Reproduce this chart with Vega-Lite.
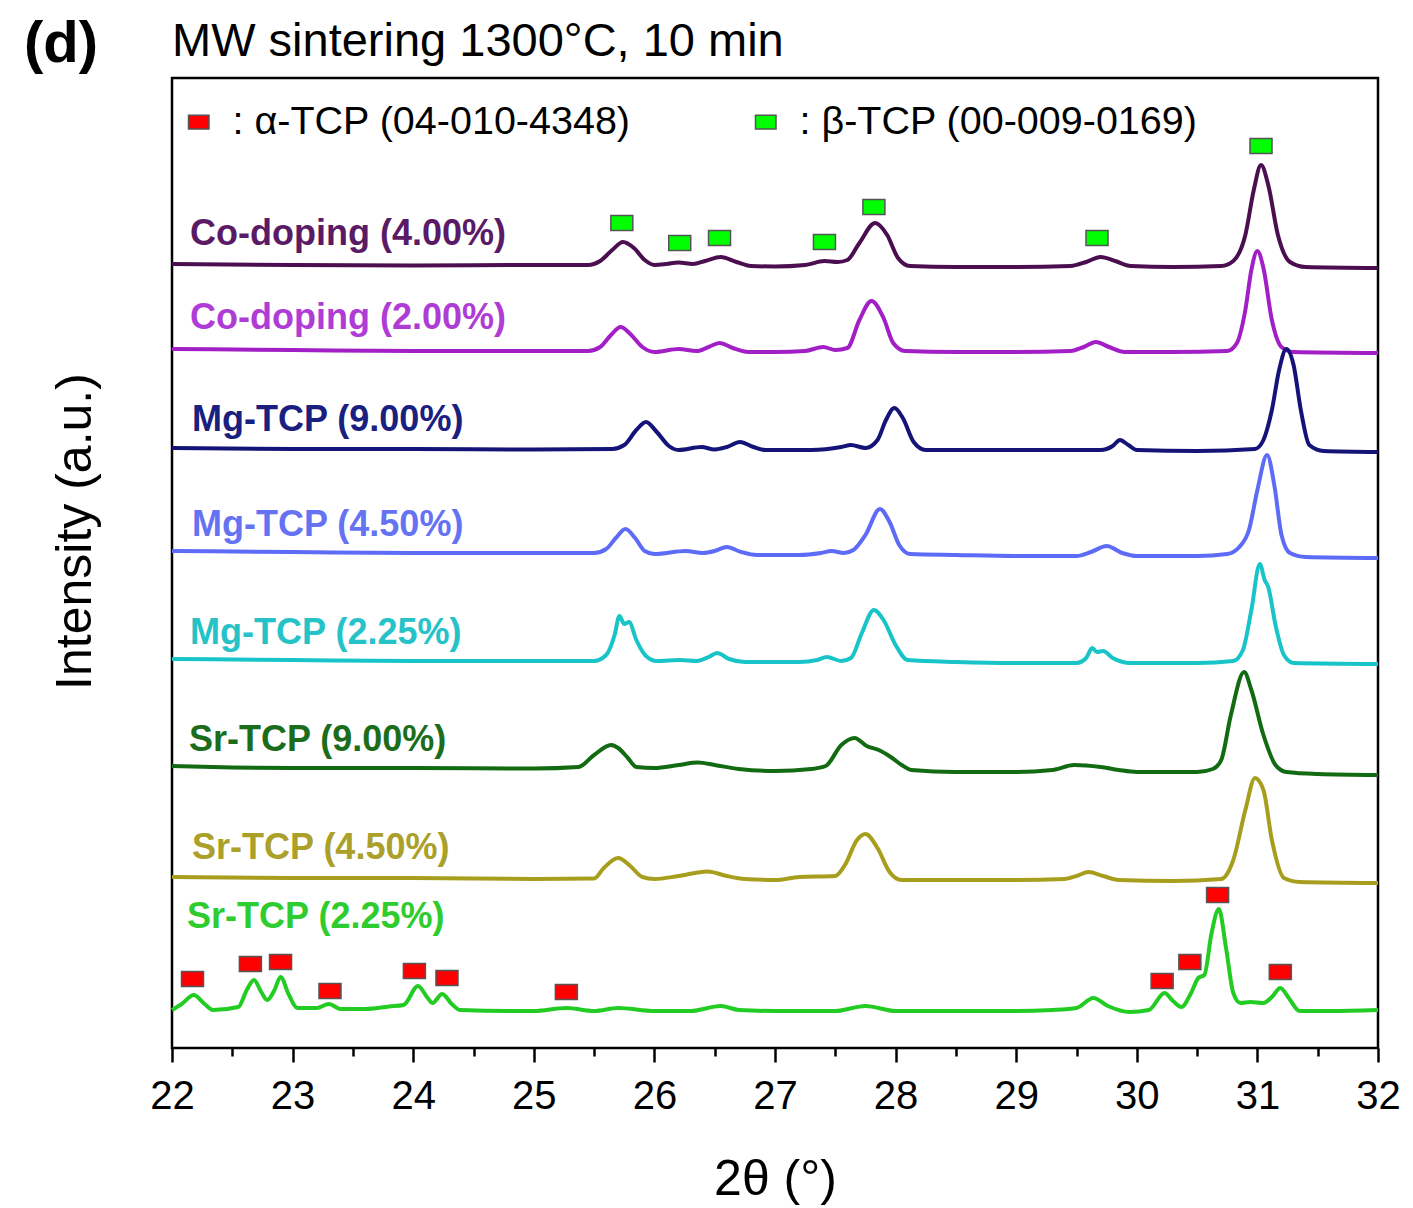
{
"$schema": "https://vega.github.io/schema/vega-lite/v6.json",
"width": 1206, "height": 970,
"autosize": {"type": "none"},
"padding": {"left": 172, "top": 78, "right": 35, "bottom": 160},
"background": "white",
"title": {"text": "MW sintering 1300°C, 10 min", "anchor": "start", "frame": "group", "fontSize": 47, "fontWeight": "normal", "font": "Liberation Sans", "color": "black", "offset": 6, "dy": 56},
"config": {"view": {"stroke": "black", "strokeWidth": 2.5}, "font": "Liberation Sans"},
"datasets": {
"curves": [
{"s":"Co-doping (4.00%)","x":22.0,"y":784},{"s":"Co-doping (4.00%)","x":23.0,"y":783},{"s":"Co-doping (4.00%)","x":24.0,"y":782.5},{"s":"Co-doping (4.00%)","x":25.0,"y":783},{"s":"Co-doping (4.00%)","x":25.45,"y":783},{"s":"Co-doping (4.00%)","x":25.55,"y":787},{"s":"Co-doping (4.00%)","x":25.65,"y":798},{"s":"Co-doping (4.00%)","x":25.74,"y":806},{"s":"Co-doping (4.00%)","x":25.83,"y":800},{"s":"Co-doping (4.00%)","x":25.92,"y":788},{"s":"Co-doping (4.00%)","x":26.0,"y":783},{"s":"Co-doping (4.00%)","x":26.1,"y":784},{"s":"Co-doping (4.00%)","x":26.2,"y":785.5},{"s":"Co-doping (4.00%)","x":26.32,"y":784},{"s":"Co-doping (4.00%)","x":26.42,"y":787},{"s":"Co-doping (4.00%)","x":26.55,"y":791},{"s":"Co-doping (4.00%)","x":26.68,"y":786},{"s":"Co-doping (4.00%)","x":26.8,"y":782},{"s":"Co-doping (4.00%)","x":27.0,"y":781.5},{"s":"Co-doping (4.00%)","x":27.25,"y":783},{"s":"Co-doping (4.00%)","x":27.41,"y":787},{"s":"Co-doping (4.00%)","x":27.52,"y":786},{"s":"Co-doping (4.00%)","x":27.6,"y":788},{"s":"Co-doping (4.00%)","x":27.7,"y":805},{"s":"Co-doping (4.00%)","x":27.83,"y":825},{"s":"Co-doping (4.00%)","x":27.93,"y":813},{"s":"Co-doping (4.00%)","x":28.02,"y":790},{"s":"Co-doping (4.00%)","x":28.12,"y":782},{"s":"Co-doping (4.00%)","x":28.5,"y":781},{"s":"Co-doping (4.00%)","x":29.0,"y":781},{"s":"Co-doping (4.00%)","x":29.45,"y":782},{"s":"Co-doping (4.00%)","x":29.58,"y":786},{"s":"Co-doping (4.00%)","x":29.7,"y":791},{"s":"Co-doping (4.00%)","x":29.82,"y":787},{"s":"Co-doping (4.00%)","x":29.95,"y":782},{"s":"Co-doping (4.00%)","x":30.3,"y":781},{"s":"Co-doping (4.00%)","x":30.7,"y":782},{"s":"Co-doping (4.00%)","x":30.8,"y":787},{"s":"Co-doping (4.00%)","x":30.9,"y":813},{"s":"Co-doping (4.00%)","x":30.97,"y":858},{"s":"Co-doping (4.00%)","x":31.03,"y":883},{"s":"Co-doping (4.00%)","x":31.09,"y":863},{"s":"Co-doping (4.00%)","x":31.17,"y":813},{"s":"Co-doping (4.00%)","x":31.27,"y":786},{"s":"Co-doping (4.00%)","x":31.4,"y":781},{"s":"Co-doping (4.00%)","x":32.0,"y":780},
{"s":"Co-doping (2.00%)","x":22.0,"y":699},{"s":"Co-doping (2.00%)","x":23.0,"y":698},{"s":"Co-doping (2.00%)","x":24.0,"y":697},{"s":"Co-doping (2.00%)","x":25.0,"y":697},{"s":"Co-doping (2.00%)","x":25.45,"y":697},{"s":"Co-doping (2.00%)","x":25.55,"y":701},{"s":"Co-doping (2.00%)","x":25.64,"y":713},{"s":"Co-doping (2.00%)","x":25.72,"y":721},{"s":"Co-doping (2.00%)","x":25.8,"y":714},{"s":"Co-doping (2.00%)","x":25.9,"y":701},{"s":"Co-doping (2.00%)","x":26.0,"y":696},{"s":"Co-doping (2.00%)","x":26.2,"y":699},{"s":"Co-doping (2.00%)","x":26.35,"y":697},{"s":"Co-doping (2.00%)","x":26.45,"y":701},{"s":"Co-doping (2.00%)","x":26.54,"y":705},{"s":"Co-doping (2.00%)","x":26.65,"y":700},{"s":"Co-doping (2.00%)","x":26.78,"y":696},{"s":"Co-doping (2.00%)","x":27.0,"y":696},{"s":"Co-doping (2.00%)","x":27.25,"y":697},{"s":"Co-doping (2.00%)","x":27.4,"y":701},{"s":"Co-doping (2.00%)","x":27.5,"y":698},{"s":"Co-doping (2.00%)","x":27.6,"y":700},{"s":"Co-doping (2.00%)","x":27.7,"y":728},{"s":"Co-doping (2.00%)","x":27.8,"y":747},{"s":"Co-doping (2.00%)","x":27.9,"y":730},{"s":"Co-doping (2.00%)","x":27.98,"y":705},{"s":"Co-doping (2.00%)","x":28.08,"y":697},{"s":"Co-doping (2.00%)","x":28.5,"y":696},{"s":"Co-doping (2.00%)","x":29.0,"y":696},{"s":"Co-doping (2.00%)","x":29.45,"y":697},{"s":"Co-doping (2.00%)","x":29.56,"y":701},{"s":"Co-doping (2.00%)","x":29.66,"y":706},{"s":"Co-doping (2.00%)","x":29.77,"y":701},{"s":"Co-doping (2.00%)","x":29.9,"y":696},{"s":"Co-doping (2.00%)","x":30.3,"y":696},{"s":"Co-doping (2.00%)","x":30.75,"y":697},{"s":"Co-doping (2.00%)","x":30.83,"y":705},{"s":"Co-doping (2.00%)","x":30.9,"y":738},{"s":"Co-doping (2.00%)","x":30.95,"y":778},{"s":"Co-doping (2.00%)","x":31.0,"y":797},{"s":"Co-doping (2.00%)","x":31.05,"y":780},{"s":"Co-doping (2.00%)","x":31.12,"y":728},{"s":"Co-doping (2.00%)","x":31.2,"y":701},{"s":"Co-doping (2.00%)","x":31.3,"y":696},{"s":"Co-doping (2.00%)","x":32.0,"y":695},
{"s":"Mg-TCP (9.00%)","x":22.0,"y":600},{"s":"Mg-TCP (9.00%)","x":23.0,"y":599},{"s":"Mg-TCP (9.00%)","x":24.0,"y":599},{"s":"Mg-TCP (9.00%)","x":25.0,"y":598.5},{"s":"Mg-TCP (9.00%)","x":25.65,"y":599},{"s":"Mg-TCP (9.00%)","x":25.75,"y":603},{"s":"Mg-TCP (9.00%)","x":25.85,"y":618},{"s":"Mg-TCP (9.00%)","x":25.93,"y":626},{"s":"Mg-TCP (9.00%)","x":26.02,"y":616},{"s":"Mg-TCP (9.00%)","x":26.12,"y":602},{"s":"Mg-TCP (9.00%)","x":26.2,"y":598},{"s":"Mg-TCP (9.00%)","x":26.39,"y":601},{"s":"Mg-TCP (9.00%)","x":26.5,"y":598.5},{"s":"Mg-TCP (9.00%)","x":26.6,"y":601},{"s":"Mg-TCP (9.00%)","x":26.71,"y":606},{"s":"Mg-TCP (9.00%)","x":26.82,"y":601},{"s":"Mg-TCP (9.00%)","x":26.92,"y":598},{"s":"Mg-TCP (9.00%)","x":27.3,"y":598},{"s":"Mg-TCP (9.00%)","x":27.55,"y":601},{"s":"Mg-TCP (9.00%)","x":27.63,"y":603},{"s":"Mg-TCP (9.00%)","x":27.75,"y":600},{"s":"Mg-TCP (9.00%)","x":27.85,"y":608},{"s":"Mg-TCP (9.00%)","x":27.92,"y":628},{"s":"Mg-TCP (9.00%)","x":27.99,"y":640},{"s":"Mg-TCP (9.00%)","x":28.06,"y":630},{"s":"Mg-TCP (9.00%)","x":28.15,"y":606},{"s":"Mg-TCP (9.00%)","x":28.25,"y":598},{"s":"Mg-TCP (9.00%)","x":28.6,"y":598},{"s":"Mg-TCP (9.00%)","x":29.0,"y":598},{"s":"Mg-TCP (9.00%)","x":29.7,"y":598},{"s":"Mg-TCP (9.00%)","x":29.8,"y":602},{"s":"Mg-TCP (9.00%)","x":29.86,"y":608},{"s":"Mg-TCP (9.00%)","x":29.93,"y":603},{"s":"Mg-TCP (9.00%)","x":30.0,"y":598},{"s":"Mg-TCP (9.00%)","x":30.5,"y":597},{"s":"Mg-TCP (9.00%)","x":30.98,"y":599},{"s":"Mg-TCP (9.00%)","x":31.05,"y":608},{"s":"Mg-TCP (9.00%)","x":31.12,"y":638},{"s":"Mg-TCP (9.00%)","x":31.18,"y":678},{"s":"Mg-TCP (9.00%)","x":31.24,"y":699},{"s":"Mg-TCP (9.00%)","x":31.3,"y":683},{"s":"Mg-TCP (9.00%)","x":31.36,"y":638},{"s":"Mg-TCP (9.00%)","x":31.43,"y":603},{"s":"Mg-TCP (9.00%)","x":31.55,"y":597},{"s":"Mg-TCP (9.00%)","x":32.0,"y":596},
{"s":"Mg-TCP (4.50%)","x":22.0,"y":497},{"s":"Mg-TCP (4.50%)","x":23.0,"y":496},{"s":"Mg-TCP (4.50%)","x":24.0,"y":495},{"s":"Mg-TCP (4.50%)","x":25.0,"y":495},{"s":"Mg-TCP (4.50%)","x":25.5,"y":495},{"s":"Mg-TCP (4.50%)","x":25.6,"y":499},{"s":"Mg-TCP (4.50%)","x":25.68,"y":510},{"s":"Mg-TCP (4.50%)","x":25.76,"y":519},{"s":"Mg-TCP (4.50%)","x":25.84,"y":510},{"s":"Mg-TCP (4.50%)","x":25.92,"y":497},{"s":"Mg-TCP (4.50%)","x":26.0,"y":494},{"s":"Mg-TCP (4.50%)","x":26.26,"y":497},{"s":"Mg-TCP (4.50%)","x":26.4,"y":495},{"s":"Mg-TCP (4.50%)","x":26.5,"y":497},{"s":"Mg-TCP (4.50%)","x":26.6,"y":501},{"s":"Mg-TCP (4.50%)","x":26.72,"y":496},{"s":"Mg-TCP (4.50%)","x":26.85,"y":493},{"s":"Mg-TCP (4.50%)","x":27.2,"y":493},{"s":"Mg-TCP (4.50%)","x":27.38,"y":495},{"s":"Mg-TCP (4.50%)","x":27.47,"y":497},{"s":"Mg-TCP (4.50%)","x":27.57,"y":495},{"s":"Mg-TCP (4.50%)","x":27.65,"y":498},{"s":"Mg-TCP (4.50%)","x":27.75,"y":513},{"s":"Mg-TCP (4.50%)","x":27.87,"y":539},{"s":"Mg-TCP (4.50%)","x":27.95,"y":526},{"s":"Mg-TCP (4.50%)","x":28.03,"y":503},{"s":"Mg-TCP (4.50%)","x":28.12,"y":494},{"s":"Mg-TCP (4.50%)","x":28.5,"y":493},{"s":"Mg-TCP (4.50%)","x":29.0,"y":492},{"s":"Mg-TCP (4.50%)","x":29.5,"y":492},{"s":"Mg-TCP (4.50%)","x":29.62,"y":496},{"s":"Mg-TCP (4.50%)","x":29.75,"y":502},{"s":"Mg-TCP (4.50%)","x":29.88,"y":495},{"s":"Mg-TCP (4.50%)","x":30.0,"y":492},{"s":"Mg-TCP (4.50%)","x":30.5,"y":492},{"s":"Mg-TCP (4.50%)","x":30.75,"y":494},{"s":"Mg-TCP (4.50%)","x":30.85,"y":501},{"s":"Mg-TCP (4.50%)","x":30.93,"y":518},{"s":"Mg-TCP (4.50%)","x":31.0,"y":558},{"s":"Mg-TCP (4.50%)","x":31.08,"y":593},{"s":"Mg-TCP (4.50%)","x":31.14,"y":563},{"s":"Mg-TCP (4.50%)","x":31.2,"y":513},{"s":"Mg-TCP (4.50%)","x":31.27,"y":495},{"s":"Mg-TCP (4.50%)","x":31.4,"y":491},{"s":"Mg-TCP (4.50%)","x":32.0,"y":490},
{"s":"Mg-TCP (2.25%)","x":22.0,"y":389},{"s":"Mg-TCP (2.25%)","x":23.0,"y":388},{"s":"Mg-TCP (2.25%)","x":24.0,"y":387},{"s":"Mg-TCP (2.25%)","x":25.0,"y":387},{"s":"Mg-TCP (2.25%)","x":25.5,"y":387},{"s":"Mg-TCP (2.25%)","x":25.6,"y":393},{"s":"Mg-TCP (2.25%)","x":25.67,"y":413},{"s":"Mg-TCP (2.25%)","x":25.71,"y":432},{"s":"Mg-TCP (2.25%)","x":25.75,"y":424},{"s":"Mg-TCP (2.25%)","x":25.79,"y":426},{"s":"Mg-TCP (2.25%)","x":25.85,"y":408},{"s":"Mg-TCP (2.25%)","x":25.93,"y":392},{"s":"Mg-TCP (2.25%)","x":26.02,"y":387},{"s":"Mg-TCP (2.25%)","x":26.21,"y":388},{"s":"Mg-TCP (2.25%)","x":26.35,"y":387},{"s":"Mg-TCP (2.25%)","x":26.45,"y":391},{"s":"Mg-TCP (2.25%)","x":26.52,"y":395},{"s":"Mg-TCP (2.25%)","x":26.62,"y":389},{"s":"Mg-TCP (2.25%)","x":26.75,"y":386},{"s":"Mg-TCP (2.25%)","x":27.2,"y":386},{"s":"Mg-TCP (2.25%)","x":27.35,"y":388},{"s":"Mg-TCP (2.25%)","x":27.43,"y":391},{"s":"Mg-TCP (2.25%)","x":27.55,"y":387},{"s":"Mg-TCP (2.25%)","x":27.63,"y":390},{"s":"Mg-TCP (2.25%)","x":27.72,"y":415},{"s":"Mg-TCP (2.25%)","x":27.82,"y":438},{"s":"Mg-TCP (2.25%)","x":27.9,"y":428},{"s":"Mg-TCP (2.25%)","x":28.0,"y":403},{"s":"Mg-TCP (2.25%)","x":28.1,"y":388},{"s":"Mg-TCP (2.25%)","x":28.5,"y":386},{"s":"Mg-TCP (2.25%)","x":29.0,"y":385},{"s":"Mg-TCP (2.25%)","x":29.5,"y":385},{"s":"Mg-TCP (2.25%)","x":29.58,"y":390},{"s":"Mg-TCP (2.25%)","x":29.63,"y":400},{"s":"Mg-TCP (2.25%)","x":29.67,"y":396},{"s":"Mg-TCP (2.25%)","x":29.72,"y":397},{"s":"Mg-TCP (2.25%)","x":29.8,"y":390},{"s":"Mg-TCP (2.25%)","x":29.95,"y":385},{"s":"Mg-TCP (2.25%)","x":30.5,"y":385},{"s":"Mg-TCP (2.25%)","x":30.8,"y":387},{"s":"Mg-TCP (2.25%)","x":30.88,"y":398},{"s":"Mg-TCP (2.25%)","x":30.95,"y":438},{"s":"Mg-TCP (2.25%)","x":31.02,"y":484},{"s":"Mg-TCP (2.25%)","x":31.06,"y":468},{"s":"Mg-TCP (2.25%)","x":31.09,"y":461},{"s":"Mg-TCP (2.25%)","x":31.15,"y":423},{"s":"Mg-TCP (2.25%)","x":31.22,"y":393},{"s":"Mg-TCP (2.25%)","x":31.3,"y":385},{"s":"Mg-TCP (2.25%)","x":32.0,"y":384},
{"s":"Sr-TCP (9.00%)","x":22.0,"y":282},{"s":"Sr-TCP (9.00%)","x":22.5,"y":280.5},{"s":"Sr-TCP (9.00%)","x":23.0,"y":280},{"s":"Sr-TCP (9.00%)","x":24.0,"y":280},{"s":"Sr-TCP (9.00%)","x":25.0,"y":279.5},{"s":"Sr-TCP (9.00%)","x":25.37,"y":281},{"s":"Sr-TCP (9.00%)","x":25.5,"y":293},{"s":"Sr-TCP (9.00%)","x":25.64,"y":303},{"s":"Sr-TCP (9.00%)","x":25.7,"y":300},{"s":"Sr-TCP (9.00%)","x":25.78,"y":290},{"s":"Sr-TCP (9.00%)","x":25.85,"y":281},{"s":"Sr-TCP (9.00%)","x":26.0,"y":280},{"s":"Sr-TCP (9.00%)","x":26.2,"y":283},{"s":"Sr-TCP (9.00%)","x":26.36,"y":285.5},{"s":"Sr-TCP (9.00%)","x":26.5,"y":283},{"s":"Sr-TCP (9.00%)","x":26.7,"y":279},{"s":"Sr-TCP (9.00%)","x":27.0,"y":277},{"s":"Sr-TCP (9.00%)","x":27.3,"y":279},{"s":"Sr-TCP (9.00%)","x":27.42,"y":282},{"s":"Sr-TCP (9.00%)","x":27.55,"y":303},{"s":"Sr-TCP (9.00%)","x":27.66,"y":310},{"s":"Sr-TCP (9.00%)","x":27.76,"y":302},{"s":"Sr-TCP (9.00%)","x":27.86,"y":298},{"s":"Sr-TCP (9.00%)","x":27.96,"y":291},{"s":"Sr-TCP (9.00%)","x":28.05,"y":283},{"s":"Sr-TCP (9.00%)","x":28.13,"y":278},{"s":"Sr-TCP (9.00%)","x":28.5,"y":276},{"s":"Sr-TCP (9.00%)","x":29.0,"y":276},{"s":"Sr-TCP (9.00%)","x":29.3,"y":278},{"s":"Sr-TCP (9.00%)","x":29.48,"y":283},{"s":"Sr-TCP (9.00%)","x":29.7,"y":281},{"s":"Sr-TCP (9.00%)","x":29.85,"y":278},{"s":"Sr-TCP (9.00%)","x":30.0,"y":276},{"s":"Sr-TCP (9.00%)","x":30.5,"y":276},{"s":"Sr-TCP (9.00%)","x":30.63,"y":279},{"s":"Sr-TCP (9.00%)","x":30.7,"y":288},{"s":"Sr-TCP (9.00%)","x":30.78,"y":333},{"s":"Sr-TCP (9.00%)","x":30.89,"y":376},{"s":"Sr-TCP (9.00%)","x":30.95,"y":358},{"s":"Sr-TCP (9.00%)","x":31.05,"y":313},{"s":"Sr-TCP (9.00%)","x":31.15,"y":283},{"s":"Sr-TCP (9.00%)","x":31.24,"y":276},{"s":"Sr-TCP (9.00%)","x":31.5,"y":274},{"s":"Sr-TCP (9.00%)","x":32.0,"y":273},
{"s":"Sr-TCP (4.50%)","x":22.0,"y":171},{"s":"Sr-TCP (4.50%)","x":23.0,"y":170},{"s":"Sr-TCP (4.50%)","x":24.0,"y":170},{"s":"Sr-TCP (4.50%)","x":25.0,"y":169},{"s":"Sr-TCP (4.50%)","x":25.5,"y":169.5},{"s":"Sr-TCP (4.50%)","x":25.58,"y":180},{"s":"Sr-TCP (4.50%)","x":25.7,"y":190},{"s":"Sr-TCP (4.50%)","x":25.8,"y":182},{"s":"Sr-TCP (4.50%)","x":25.9,"y":171},{"s":"Sr-TCP (4.50%)","x":26.0,"y":169},{"s":"Sr-TCP (4.50%)","x":26.2,"y":172},{"s":"Sr-TCP (4.50%)","x":26.44,"y":176.5},{"s":"Sr-TCP (4.50%)","x":26.6,"y":172},{"s":"Sr-TCP (4.50%)","x":26.75,"y":169},{"s":"Sr-TCP (4.50%)","x":27.0,"y":168},{"s":"Sr-TCP (4.50%)","x":27.2,"y":171},{"s":"Sr-TCP (4.50%)","x":27.5,"y":172},{"s":"Sr-TCP (4.50%)","x":27.58,"y":183},{"s":"Sr-TCP (4.50%)","x":27.68,"y":208},{"s":"Sr-TCP (4.50%)","x":27.75,"y":214},{"s":"Sr-TCP (4.50%)","x":27.85,"y":200},{"s":"Sr-TCP (4.50%)","x":27.95,"y":176},{"s":"Sr-TCP (4.50%)","x":28.05,"y":168},{"s":"Sr-TCP (4.50%)","x":28.5,"y":168},{"s":"Sr-TCP (4.50%)","x":29.0,"y":168},{"s":"Sr-TCP (4.50%)","x":29.4,"y":169},{"s":"Sr-TCP (4.50%)","x":29.5,"y":172},{"s":"Sr-TCP (4.50%)","x":29.6,"y":176},{"s":"Sr-TCP (4.50%)","x":29.72,"y":172},{"s":"Sr-TCP (4.50%)","x":29.85,"y":168},{"s":"Sr-TCP (4.50%)","x":30.3,"y":167},{"s":"Sr-TCP (4.50%)","x":30.7,"y":169},{"s":"Sr-TCP (4.50%)","x":30.8,"y":188},{"s":"Sr-TCP (4.50%)","x":30.9,"y":238},{"s":"Sr-TCP (4.50%)","x":30.98,"y":270},{"s":"Sr-TCP (4.50%)","x":31.05,"y":258},{"s":"Sr-TCP (4.50%)","x":31.12,"y":208},{"s":"Sr-TCP (4.50%)","x":31.22,"y":170},{"s":"Sr-TCP (4.50%)","x":31.35,"y":166},{"s":"Sr-TCP (4.50%)","x":32.0,"y":165},
{"s":"Sr-TCP (2.25%)","x":22.0,"y":38},{"s":"Sr-TCP (2.25%)","x":22.08,"y":44},{"s":"Sr-TCP (2.25%)","x":22.18,"y":53},{"s":"Sr-TCP (2.25%)","x":22.27,"y":44},{"s":"Sr-TCP (2.25%)","x":22.34,"y":38},{"s":"Sr-TCP (2.25%)","x":22.55,"y":41},{"s":"Sr-TCP (2.25%)","x":22.62,"y":58},{"s":"Sr-TCP (2.25%)","x":22.68,"y":68},{"s":"Sr-TCP (2.25%)","x":22.74,"y":56},{"s":"Sr-TCP (2.25%)","x":22.79,"y":48},{"s":"Sr-TCP (2.25%)","x":22.85,"y":58},{"s":"Sr-TCP (2.25%)","x":22.9,"y":71},{"s":"Sr-TCP (2.25%)","x":22.97,"y":53},{"s":"Sr-TCP (2.25%)","x":23.04,"y":40},{"s":"Sr-TCP (2.25%)","x":23.2,"y":40},{"s":"Sr-TCP (2.25%)","x":23.3,"y":44},{"s":"Sr-TCP (2.25%)","x":23.4,"y":39},{"s":"Sr-TCP (2.25%)","x":23.6,"y":39},{"s":"Sr-TCP (2.25%)","x":23.8,"y":41.5},{"s":"Sr-TCP (2.25%)","x":23.92,"y":43},{"s":"Sr-TCP (2.25%)","x":24.04,"y":62},{"s":"Sr-TCP (2.25%)","x":24.12,"y":50},{"s":"Sr-TCP (2.25%)","x":24.16,"y":45},{"s":"Sr-TCP (2.25%)","x":24.24,"y":54},{"s":"Sr-TCP (2.25%)","x":24.32,"y":44},{"s":"Sr-TCP (2.25%)","x":24.39,"y":38},{"s":"Sr-TCP (2.25%)","x":24.8,"y":37},{"s":"Sr-TCP (2.25%)","x":25.0,"y":37},{"s":"Sr-TCP (2.25%)","x":25.27,"y":40},{"s":"Sr-TCP (2.25%)","x":25.5,"y":37},{"s":"Sr-TCP (2.25%)","x":25.7,"y":40},{"s":"Sr-TCP (2.25%)","x":26.0,"y":37},{"s":"Sr-TCP (2.25%)","x":26.3,"y":37},{"s":"Sr-TCP (2.25%)","x":26.55,"y":42},{"s":"Sr-TCP (2.25%)","x":26.7,"y":38},{"s":"Sr-TCP (2.25%)","x":27.0,"y":37},{"s":"Sr-TCP (2.25%)","x":27.5,"y":37},{"s":"Sr-TCP (2.25%)","x":27.75,"y":42},{"s":"Sr-TCP (2.25%)","x":28.0,"y":37},{"s":"Sr-TCP (2.25%)","x":28.5,"y":37},{"s":"Sr-TCP (2.25%)","x":29.0,"y":37},{"s":"Sr-TCP (2.25%)","x":29.3,"y":38},{"s":"Sr-TCP (2.25%)","x":29.5,"y":40},{"s":"Sr-TCP (2.25%)","x":29.64,"y":50},{"s":"Sr-TCP (2.25%)","x":29.76,"y":42},{"s":"Sr-TCP (2.25%)","x":29.94,"y":36},{"s":"Sr-TCP (2.25%)","x":30.1,"y":38},{"s":"Sr-TCP (2.25%)","x":30.23,"y":55},{"s":"Sr-TCP (2.25%)","x":30.3,"y":47},{"s":"Sr-TCP (2.25%)","x":30.37,"y":41},{"s":"Sr-TCP (2.25%)","x":30.45,"y":55},{"s":"Sr-TCP (2.25%)","x":30.51,"y":70},{"s":"Sr-TCP (2.25%)","x":30.56,"y":73},{"s":"Sr-TCP (2.25%)","x":30.62,"y":115},{"s":"Sr-TCP (2.25%)","x":30.68,"y":139},{"s":"Sr-TCP (2.25%)","x":30.74,"y":100},{"s":"Sr-TCP (2.25%)","x":30.8,"y":55},{"s":"Sr-TCP (2.25%)","x":30.86,"y":45},{"s":"Sr-TCP (2.25%)","x":30.94,"y":46},{"s":"Sr-TCP (2.25%)","x":31.05,"y":45},{"s":"Sr-TCP (2.25%)","x":31.12,"y":51},{"s":"Sr-TCP (2.25%)","x":31.19,"y":60},{"s":"Sr-TCP (2.25%)","x":31.26,"y":50},{"s":"Sr-TCP (2.25%)","x":31.35,"y":37},{"s":"Sr-TCP (2.25%)","x":31.6,"y":37},{"s":"Sr-TCP (2.25%)","x":32.0,"y":38}
],
"labels": [
{"s":"Co-doping (4.00%)","x":22.15,"y":814},
{"s":"Co-doping (2.00%)","x":22.15,"y":730},
{"s":"Mg-TCP (9.00%)","x":22.166,"y":628},
{"s":"Mg-TCP (4.50%)","x":22.166,"y":523},
{"s":"Mg-TCP (2.25%)","x":22.15,"y":415},
{"s":"Sr-TCP (9.00%)","x":22.14,"y":308},
{"s":"Sr-TCP (4.50%)","x":22.166,"y":200},
{"s":"Sr-TCP (2.25%)","x":22.125,"y":131}
],
"markers": [
{"phase":"α-TCP (04-010-4348)","x":22.17,"y":69},
{"phase":"α-TCP (04-010-4348)","x":22.65,"y":84},
{"phase":"α-TCP (04-010-4348)","x":22.9,"y":86},
{"phase":"α-TCP (04-010-4348)","x":23.31,"y":57},
{"phase":"α-TCP (04-010-4348)","x":24.01,"y":77},
{"phase":"α-TCP (04-010-4348)","x":24.28,"y":70},
{"phase":"α-TCP (04-010-4348)","x":25.27,"y":56},
{"phase":"α-TCP (04-010-4348)","x":30.21,"y":67},
{"phase":"α-TCP (04-010-4348)","x":30.44,"y":86},
{"phase":"α-TCP (04-010-4348)","x":30.67,"y":153},
{"phase":"α-TCP (04-010-4348)","x":31.19,"y":76},
{"phase":"β-TCP (00-009-0169)","x":25.73,"y":825},
{"phase":"β-TCP (00-009-0169)","x":26.21,"y":805},
{"phase":"β-TCP (00-009-0169)","x":26.54,"y":810},
{"phase":"β-TCP (00-009-0169)","x":27.41,"y":806},
{"phase":"β-TCP (00-009-0169)","x":27.82,"y":841},
{"phase":"β-TCP (00-009-0169)","x":29.67,"y":810},
{"phase":"β-TCP (00-009-0169)","x":31.03,"y":902}
],
"tag": [{"t":"(d)","x":21.08,"y":1003}]
},
"encoding": {
"x": {"field":"x","type":"quantitative","scale":{"domain":[22,32],"nice":false,"zero":false},
 "axis":{"title":"2θ (°)","values":[22,22.5,23,23.5,24,24.5,25,25.5,26,26.5,27,27.5,28,28.5,29,29.5,30,30.5,31,31.5,32],
 "labelExpr":"datum.value % 1 === 0 ? '' + datum.value : ''",
 "tickSize":{"condition":{"test":"datum.value % 1 === 0","value":14},"value":8},
 "labelFlush":false,"labelOverlap":false,"grid":false,"domain":false,"tickColor":"black","tickWidth":2.5,
 "labelFontSize":40,"labelFont":"Liberation Sans","labelColor":"black","labelPadding":14,
 "titleFontSize":50,"titleFont":"Liberation Sans","titleFontWeight":"normal","titleColor":"black","titleY":106}},
"y": {"field":"y","type":"quantitative","scale":{"domain":[0,970],"nice":false,"zero":false},
 "axis":{"title":"Intensity (a.u.)","labels":false,"ticks":false,"domain":false,"grid":false,
 "titleFontSize":50,"titleFont":"Liberation Sans","titleFontWeight":"normal","titleColor":"black","titleX":-72,"titleY":453}}
},
"resolve": {"scale": {"color": "independent"}},
"layer": [
{"data":{"name":"curves"},
 "mark":{"type":"line","interpolate":"monotone","strokeWidth":4},
 "encoding":{"color":{"field":"s","type":"nominal","legend":null,
  "scale":{"domain":["Co-doping (4.00%)","Co-doping (2.00%)","Mg-TCP (9.00%)","Mg-TCP (4.50%)","Mg-TCP (2.25%)","Sr-TCP (9.00%)","Sr-TCP (4.50%)","Sr-TCP (2.25%)"],
  "range":["#4b0f50","#a21fc6","#141478","#5d6bf7","#18c4c8","#126a12","#a89e1e","#22cc22"]}}}},
{"data":{"name":"labels"},
 "mark":{"type":"text","align":"left","baseline":"middle","fontSize":36,"fontWeight":"bold","font":"Liberation Sans"},
 "encoding":{"text":{"field":"s"},"color":{"field":"s","type":"nominal","legend":null,
  "scale":{"domain":["Co-doping (4.00%)","Co-doping (2.00%)","Mg-TCP (9.00%)","Mg-TCP (4.50%)","Mg-TCP (2.25%)","Sr-TCP (9.00%)","Sr-TCP (4.50%)","Sr-TCP (2.25%)"],
  "range":["#5a1a66","#b03cd6","#1a2080","#6573f2","#25c2c8","#1b6d1b","#aaa02a","#2ecc2e"]}}}},
{"data":{"name":"markers"},
 "mark":{"type":"point","shape":"M-1,-0.68H1V0.68H-1Z","size":484,"filled":true,"opacity":1,"stroke":"#555555","strokeWidth":1.5},
 "encoding":{"color":{"field":"phase","type":"nominal",
  "scale":{"domain":["α-TCP (04-010-4348)","β-TCP (00-009-0169)"],"range":["#ff0000","#00ff00"]},
  "legend":{"title":null,"orient":"none","legendX":7,"legendY":24,"direction":"horizontal","padding":0,
   "symbolType":"M-1,-0.68H1V0.68H-1Z","symbolSize":420,"symbolStrokeColor":"#555555","symbolStrokeWidth":1.5,"symbolOpacity":1,
   "labelFontSize":39.5,"labelFont":"Liberation Sans","labelColor":"black","labelExpr":"': ' + datum.label","labelOffset":14,"labelLimit":0,"columnPadding":115}}}},
{"data":{"name":"tag"},
 "mark":{"type":"text","align":"center","baseline":"middle","fontSize":58,"fontWeight":"bold","font":"Liberation Sans","color":"black"},
 "encoding":{"text":{"field":"t"}}}
]
}
